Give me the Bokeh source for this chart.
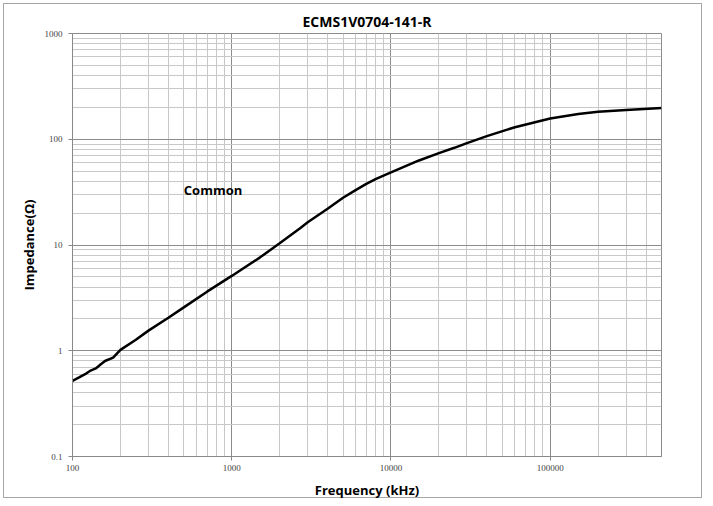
from bokeh.plotting import figure
from bokeh.models import FixedTicker, ColumnDataSource, Label
from bokeh.embed import file_html
from bokeh.resources import INLINE

# Data
freq_khz = [100, 110, 120, 130, 140, 150, 160, 180, 200, 250, 300, 400, 500, 700,
            1000, 1500, 2000, 2700, 3000, 4000, 5000, 6000, 7000, 8000, 10000,
            15000, 20000, 25000, 30000, 40000, 60000, 100000, 150000, 200000,
            300000, 500000]
impedance = [0.52, 0.56, 0.60, 0.65, 0.68, 0.74, 0.80, 0.86, 1.02, 1.27, 1.55,
             2.05, 2.57, 3.62, 5.1, 7.6, 10.4, 14.5, 16.4, 22, 28, 33, 37.8, 42,
             48.6, 63, 74, 83, 92, 107, 130, 157, 173, 182, 189, 198]

x_ticks = [100, 1000, 10000, 100000]
x_tick_labels = ["100", "1000", "10000", "100000"]
y_ticks = [0.1, 1, 10, 100, 1000]
y_tick_labels = ["0.1", "1", "10", "100", "1000"]

title_text = "ECMS1V0704-141-R"
series_label = "Common"

x_minor = [m * d for d in [100, 1000, 10000, 100000] for m in range(2, 10) if m * d <= 500000]
y_minor = [m * d for d in [0.1, 1, 10, 100] for m in range(2, 10)]

p = figure(frame_width=589, frame_height=423, x_axis_type="log", y_axis_type="log",
           x_range=(100, 500000), y_range=(0.1, 1000),
           output_backend="svg", toolbar_location=None,
           min_border_left=72, min_border_right=44, min_border_top=33, min_border_bottom=42)

p.border_fill_color = None
p.background_fill_color = "#ffffff"
p.styles = {"outline": "1px solid #a6a6a6", "outline-offset": "-4px", "background": "#ffffff"}

p.title.text = title_text
p.title.align = "center"
p.title.text_font = "Open Sans"
p.title.text_font_size = "14px"
p.title.text_font_style = "bold"
p.title.text_color = "#000000"
p.title.offset = 0
p.title.standoff = 5

p.xaxis.ticker = FixedTicker(ticks=x_ticks, minor_ticks=x_minor)
p.yaxis.ticker = FixedTicker(ticks=y_ticks, minor_ticks=y_minor)
p.xaxis.major_label_overrides = {t: l for t, l in zip(x_ticks, x_tick_labels)}
p.yaxis.major_label_overrides = {t: l for t, l in zip(y_ticks, y_tick_labels)}

for ax in (p.xaxis, p.yaxis):
    ax.major_label_text_font = "Liberation Serif"
    ax.major_label_text_font_size = "9px"
    ax.major_label_text_color = "#444444"
    ax.axis_line_color = "#888888"
    ax.major_tick_line_color = "#888888"
    ax.major_tick_out = 4
    ax.major_tick_in = 0
    ax.minor_tick_line_color = None
    ax.axis_label_text_font = "Open Sans"
    ax.axis_label_text_font_style = "bold"
    ax.axis_label_text_font_size = "13px"
    ax.axis_label_text_color = "#000000"

p.xaxis.axis_label = "Frequency (kHz)"
p.yaxis.axis_label = "Impedance(Ω)"
p.xaxis.major_label_standoff = 4
p.xaxis.axis_label_standoff = 7
p.yaxis.major_label_standoff = 6
p.yaxis.axis_label_standoff = 4

p.xgrid.grid_line_color = "#8c8c8c"
p.ygrid.grid_line_color = "#8c8c8c"
p.xgrid.minor_grid_line_color = "#c8c8c8"
p.ygrid.minor_grid_line_color = "#c8c8c8"
p.xgrid.grid_line_width = 1
p.ygrid.grid_line_width = 1
p.outline_line_color = "#8c8c8c"

src = ColumnDataSource(data=dict(f=freq_khz, z=impedance))
p.line("f", "z", source=src, line_color="#000000", line_width=2.5)

p.add_layout(Label(x=500, y=33, text=series_label, text_font="Open Sans",
                   text_font_style="bold", text_font_size="13px",
                   text_color="#000000", text_baseline="middle", text_align="left"))

open("out.html", "w").write(file_html(p, INLINE))
